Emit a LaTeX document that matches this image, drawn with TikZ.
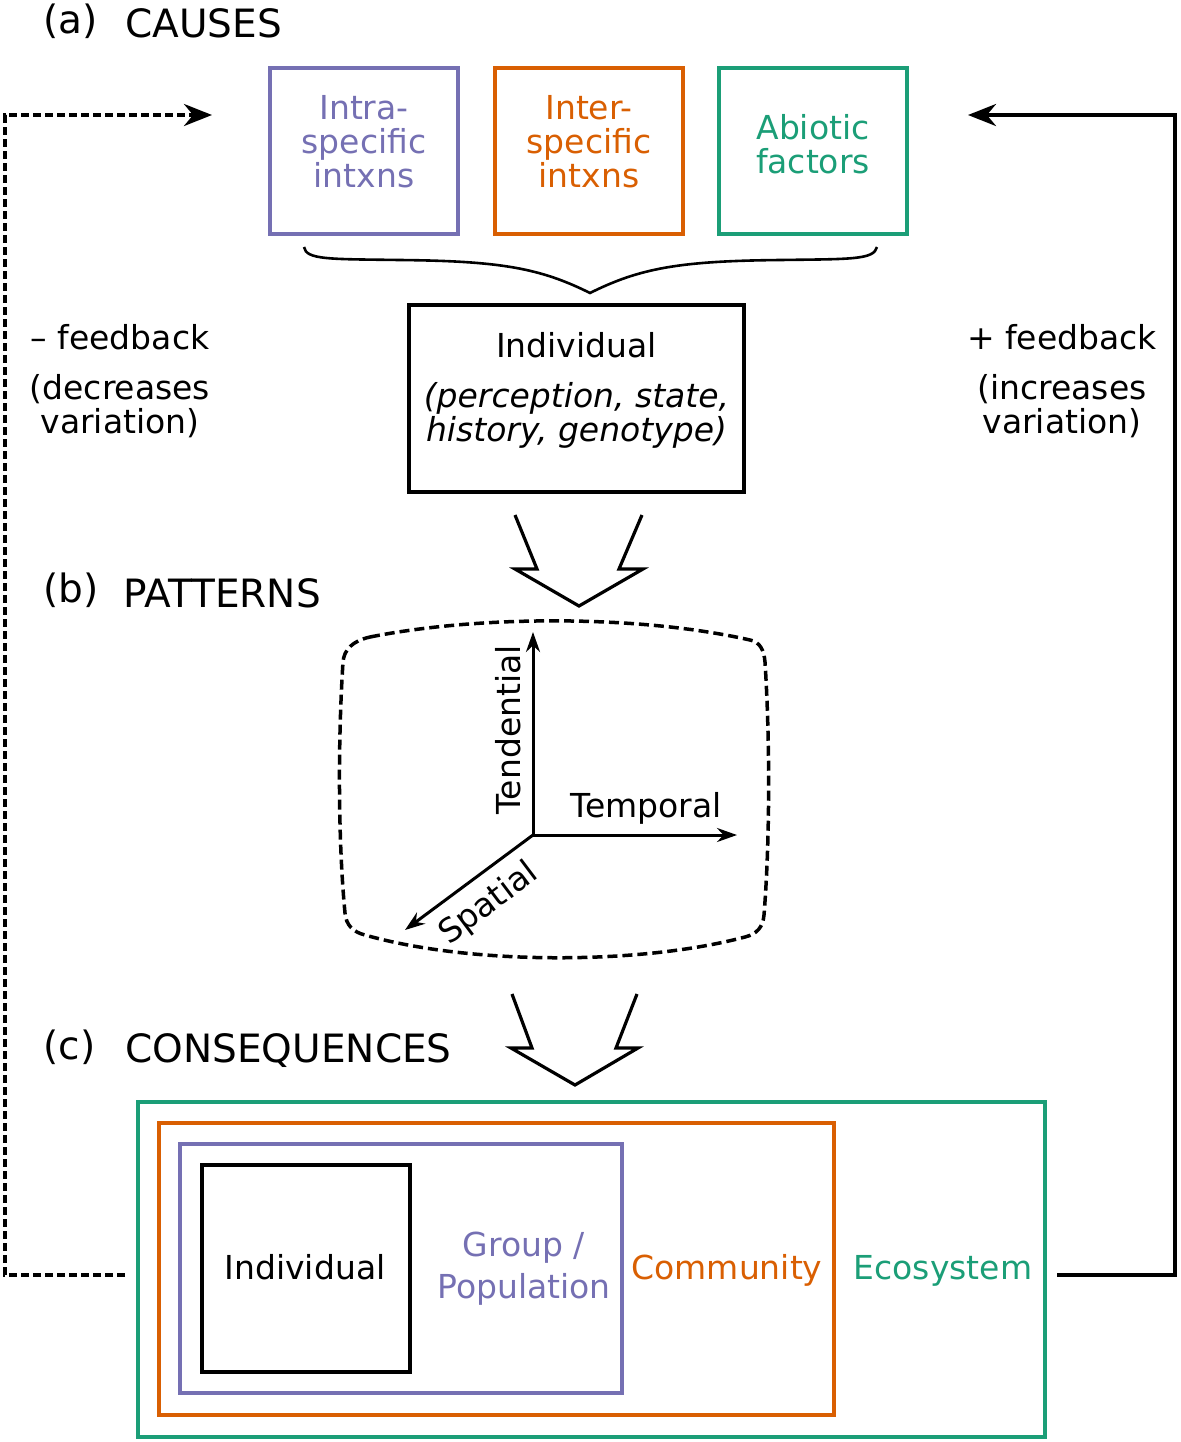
\documentclass[tikz,border=0pt]{standalone}
\usepackage{fontspec}
\setmainfont{DejaVu Sans}
\usetikzlibrary{calc, arrows.meta, positioning}

\definecolor{morado}{HTML}{7570B3}
\definecolor{naranja}{HTML}{D95F02}
\definecolor{verde}{HTML}{1B9E77}

\begin{document}
\begin{tikzpicture}[x=0.5pt, y=-0.5pt, >=Stealth, line width=1.5pt, font=\fontsize{16.5}{17}\selectfont]
          % Estilos
          \tikzstyle{caja} = [draw, rectangle, inner sep=0pt, outer sep=0pt, line width=1.75pt]
          \tikzstyle{causa} = [caja, minimum width=94pt, minimum height=83pt]
          \tikzstyle{texto} = [align=center, inner sep=0pt]
          \tikzstyle{titulo} = [anchor=base west, inner sep=0pt, font=\fontsize{19.5}{20}\selectfont]
          \tikzstyle{flecha} = [line width=1.6pt, line join=miter]
          \tikzstyle{eje} = [->, >={Stealth[length=10pt, width=7pt]}, line width=1.5pt]
          \tikzstyle{retro} = [->, >={Stealth[length=14pt, width=11pt]}, line width=2pt]

          \useasboundingbox (0,0) rectangle (1181,1442);

          % (a) causas
          \node[titulo] (etqA) at (42,33) {(a)};
          \node[titulo] (causas) at (124,37) {CAUSES};
          \node[causa, draw=morado] (intra) at (364,151) {};
          \node[causa, draw=naranja, right=18.5pt of intra] (inter) {};
          \node[causa, draw=verde, right=18pt of inter] (abiotico) {};
          \node[texto, text=morado] (txtIntra) at ([yshift=4.5pt]intra.center) {Intra-\\specific\\intxns};
          \node[texto, text=naranja] (txtInter) at ([yshift=4.5pt]inter.center) {Inter-\\specific\\intxns};
          \node[texto, text=verde] (txtAbio) at ([yshift=3.5pt]abiotico.center) {Abiotic\\factors};
          % llave
          \draw[line width=1.3pt] (304,247) .. controls (306,260) and (330,259) .. (400,260)
               .. controls (500,261) and (540,268) .. (590,293)
               .. controls (640,268) and (680,261) .. (780,260)
               .. controls (850,259) and (874,260) .. (877,247);
          \node[caja, line width=2pt, minimum width=167.5pt, minimum height=93.5pt] (indiv) at (576.5,398.5) {};
          \node[texto] (txtIndiv) at ([yshift=4pt]indiv.center)
               {Individual\\[8pt]\textit{(perception, state,}\\\textit{history, genotype)}};
          \draw[flecha] (515,515) -- (537,569) -- (515,569) -- (579,606) -- (643,569) -- (619,569) -- (642,515);

          % (b) patrones
          \node[titulo] (etqB) at (42,602) {(b)};
          \node[titulo] (patrones) at (122,607) {PATTERNS};
          \draw[line width=1.75pt, dash pattern=on 5pt off 2.5pt] (370,637) .. controls (480,615) and (640,615) .. (750,640)
               .. controls (760,642) and (764,650) .. (765,662) .. controls (770,740) and (770,840) .. (764,915)
               .. controls (763,927) and (757,934) .. (745,937) .. controls (640,965) and (470,965) .. (365,935)
               .. controls (353,932) and (346,925) .. (345,913) .. controls (338,840) and (338,740) .. (343,662)
               .. controls (344,650) and (352,641) .. (370,637) -- cycle;
          \coordinate (origen) at (533,835);
          \coordinate (ejeTend) at (533,632);
          \coordinate (ejeTemp) at (737,835);
          \coordinate (ejeEsp) at (405,930);
          \draw[eje] (origen) -- (ejeTend);
          \draw[eje] (origen) -- (ejeTemp);
          \draw[eje] (origen) -- (ejeEsp);
          \node[rotate=90] (tend) at (508,730) {Tendential};
          \node (temp) at (646,808) {Temporal};
          \node[rotate=37] (esp) at (489,904) {Spatial};
          \draw[flecha] (512,994) -- (532,1048) -- (511,1048) -- (575,1085) -- (638,1048) -- (616,1048) -- (637,994);

          % (c) consecuencias
          \node[titulo] (etqC) at (42,1059) {(c)};
          \node[titulo] (consecuencias) at (124,1062) {CONSEQUENCES};
          \node[caja, draw=verde, minimum width=453.5pt, minimum height=167.5pt] (eco) at (591.5,1269.5) {};
          \node[caja, draw=naranja, minimum width=337.5pt, minimum height=146pt] (comunidad) at (496.5,1269) {};
          \node[caja, draw=morado, minimum width=221pt, minimum height=124.5pt] (grupo) at (401,1268.5) {};
          \node[caja, line width=2pt, minimum width=104pt, minimum height=103.5pt] (indivB) at (306,1268.5) {};
          \node[anchor=base, inner sep=0pt] (txtIndivB) at (305,1279) {Individual};
          \node[texto, text=morado] (txtGrupo) at (524,1269) {Group /\\[4pt]Population};
          \node[anchor=base, inner sep=0pt, text=naranja] (txtCom) at (727,1279) {Community};
          \node[anchor=base, inner sep=0pt, text=verde] (txtEco) at (943,1279) {Ecosystem};

          % Retroalimentacion
          \coordinate (negEsq) at (5,115);
          \coordinate (negFin) at (212,115);
          \coordinate (posEsq) at (1175,115);
          \coordinate (posFin) at (968,115);
          \draw[retro, dash pattern=on 4pt off 2pt] ([shift={(-6.5pt,-2.5pt)}]eco.west) -| (negEsq) -- (negFin);
          \draw[retro] ([shift={(6pt,-2.5pt)}]eco.east) -| (posEsq) -- (posFin);
          \node[texto] (retroNeg) at (120,381) {– feedback\\[8pt](decreases\\variation)};
          \node[texto] (retroPos) at (1062,381) {+ feedback\\[8pt](increases\\variation)};
        \end{tikzpicture}
\end{document}
